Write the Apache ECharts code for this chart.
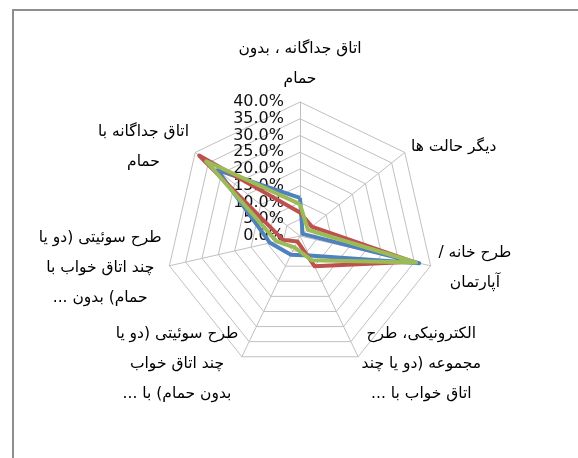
<!DOCTYPE html>
<html>
<head>
<meta charset="utf-8">
<script src="https://cdn.jsdelivr.net/npm/echarts@6/dist/echarts.min.js"></script>
<style>
  html, body { margin: 0; padding: 0; background: #fff; }
  #chart { width: 578px; height: 458px; }
</style>
</head>
<body>
<div id="chart"></div>
<script>
// Categories in the reference's clockwise order, starting at the top
const categories = [
  ["اتاق جداگانه ، بدون", "حمام"],
  ["دیگر حالت ها"],
  ["طرح خانه /", "آپارتمان"],
  ["الکترونیکی، طرح", "مجموعه (دو یا چند", "اتاق خواب با ..."],
  ["طرح سوئیتی (دو یا", "چند اتاق خواب", "بدون حمام) با ..."],
  ["طرح سوئیتی (دو یا", "چند اتاق خواب با", "حمام) بدون ..."],
  ["اتاق جداگانه با", "حمام"]
];
const blueValues  = [11.4, 1.0, 36.5, 6.5, 6.2, 9.2, 31.5];
const redValues   = [7.0, 4.5, 34.5, 10.0, 1.8, 5.2, 38.5];
const greenValues = [9.5, 3.0, 35.5, 8.0, 3.8, 7.2, 35.8];
const axisMax = 40;
const axisStep = 5;

const RLM = "\u200F";
// ECharts lays radar indicators counter-clockwise; reorder to keep reference order clockwise
const order = [0, 6, 5, 4, 3, 2, 1];
const pick = arr => order.map(i => arr[i]);

const indicators = pick(categories).map((lines, i) => {
  const ind = { name: lines.join("\n"), min: 0, max: axisMax };
  if (i === 0) ind.axisLabel = { show: true };
  return ind;
});

const chart = echarts.init(document.getElementById('chart'), null, { renderer: 'canvas' });
chart.setOption({
  backgroundColor: '#ffffff',
  animation: false,
  graphic: [{
    type: 'rect',
    shape: { x: 13, y: 10, width: 620, height: 520 },
    style: { fill: 'none', stroke: '#8e8e8e', lineWidth: 2 },
    silent: true
  }],
  radar: {
    center: [300, 236],
    radius: 134,
    startAngle: 90,
    shape: 'polygon',
    splitNumber: axisMax / axisStep,
    axisNameGap: 8,
    axisName: {
      color: '#000',
      fontFamily: 'DejaVu Sans',
      fontSize: 15.5,
      formatter: function (name) {
        return name.split("\n").map(l => '{c|' + RLM + l + RLM + '}').join("\n");
      },
      rich: {
        c: { align: 'center', lineHeight: 30, fontFamily: 'DejaVu Sans', fontSize: 15.5, color: '#000' }
      }
    },
    axisLine: { lineStyle: { color: '#c0c0c0', width: 1 } },
    splitLine: { lineStyle: { color: '#c0c0c0', width: 1 } },
    splitArea: { show: false },
    axisTick: { show: false },
    axisLabel: {
      show: false,
      margin: 16,
      padding: [5, 0, 0, 0],
      color: '#111',
      fontFamily: 'DejaVu Sans',
      fontSize: 16,
      formatter: v => v.toFixed(1) + '%'
    },
    indicator: indicators
  },
  series: [{
    type: 'radar',
    symbol: 'none',
    data: [
      { value: pick(blueValues),  name: 's1', lineStyle: { color: '#4F81BD', width: 4 }, itemStyle: { color: '#4F81BD' } },
      { value: pick(redValues),   name: 's2', lineStyle: { color: '#C0504D', width: 4 }, itemStyle: { color: '#C0504D' } },
      { value: pick(greenValues), name: 's3', lineStyle: { color: '#9BBB59', width: 4 }, itemStyle: { color: '#9BBB59' } }
    ]
  }]
});
</script>
</body>
</html>
